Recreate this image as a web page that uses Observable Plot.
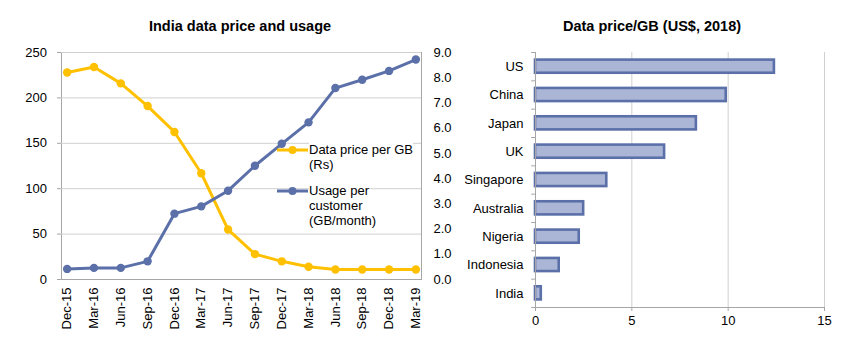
<!DOCTYPE html>
<html><head><meta charset="utf-8">
<script src="https://cdn.jsdelivr.net/npm/d3@7"></script>
<script src="https://cdn.jsdelivr.net/npm/@observablehq/plot@0.6"></script>
<style>
body{margin:0;background:#fff;font-family:"Liberation Sans",Arial,sans-serif;}
#root{position:relative;width:845px;height:354px;overflow:hidden;background:#fff;}
#root svg{position:absolute;top:0;}
.title{position:absolute;font-weight:bold;font-size:14.5px;color:#000;white-space:nowrap;transform:translate(-50%,-50%);}
.leg{position:absolute;font-size:13px;line-height:15px;color:#000;white-space:nowrap;}
.leg span{background:#fff;}
</style></head><body><div id="root"></div>
<script>
// ---- data ----
const quarters = ["Dec-15","Mar-16","Jun-16","Sep-16","Dec-16","Mar-17","Jun-17","Sep-17","Dec-17","Mar-18","Jun-18","Sep-18","Dec-18","Mar-19"];
const pricePerGB = [228,234,216,191,162.5,117,55,28,20,14,11,11,11,11];
const usagePerCustomer = [0.42,0.46,0.46,0.72,2.61,2.9,3.52,4.51,5.38,6.23,7.59,7.92,8.27,8.72];
const priceTicks = [0,50,100,150,200,250];
const usageTicks = [0,1,2,3,4,5,6,7,8,9];
const countries = ["US","China","Japan","UK","Singapore","Australia","Nigeria","Indonesia","India"];
const priceUSD = [12.4,9.9,8.35,6.7,3.7,2.5,2.27,1.23,0.3];
const usdTicks = [0,5,10,15];
const seriesNames = ["Data price per GB\n(Rs)","Usage per\ncustomer\n(GB/month)"];

const YELLOW = "#FFC000", BLUE = "#5B6FA9", AXIS = "#a6a6a6", GRID = "#d0d0d0";
const font = {fontFamily:"Liberation Sans, Arial, sans-serif", fontSize:"13px", color:"#000", background:"transparent", overflow:"visible"};
const root = document.getElementById("root");

const india = quarters.map((q,i)=>({q, price: pricePerGB[i], usage: usagePerCustomer[i]}));

// ---- left chart: price (left axis) ----
const L = {width:470, height:354, marginLeft:61, marginRight:49, marginTop:52, marginBottom:75};
const xOpt = {type:"point", domain: quarters, padding:0.21, round:false};
const p1 = Plot.plot({
  ...L, style: font,
  x: xOpt,
  y: {domain:[0,250]},
  marks: [
    Plot.frame({stroke: AXIS}),
    Plot.gridY(priceTicks.slice(1), {stroke: GRID, strokeOpacity:1}),
    Plot.axisY(priceTicks, {anchor:"left", label:null, tickSize:4, tickPadding:10.5, stroke: AXIS, fill:"#000", fontSize:13}),
    Plot.axisX(quarters, {label:null, tickRotate:-90, tickSize:0, tickPadding:8, fill:"#000", fontSize:13}),
    Plot.line(india, {x:"q", y:"price", stroke: YELLOW, strokeWidth:3}),
    Plot.dot(india, {x:"q", y:"price", r:4.2, fill: YELLOW, stroke:null})
  ]
});
p1.style.left = "0px";
root.appendChild(p1);

// ---- left chart: usage (right axis) ----
const p2 = Plot.plot({
  ...L, style: font,
  x: {...xOpt, axis:null},
  y: {domain:[0,9]},
  marks: [
    Plot.axisY(usageTicks, {anchor:"right", label:null, tickSize:0, tickPadding:12, tickFormat: d=>d.toFixed(1), fill:"#000", fontSize:13}),
    Plot.line(india, {x:"q", y:"usage", stroke: BLUE, strokeWidth:3}),
    Plot.dot(india, {x:"q", y:"usage", r:4.2, fill: BLUE, stroke:null})
  ]
});
p2.style.left = "0px";
root.appendChild(p2);

// ---- right chart: bars ----
const R = {width:400, height:354, marginLeft:90, marginRight:21, marginTop:52, marginBottom:47};
const bw = (R.height - R.marginTop - R.marginBottom) / countries.length;
const bars = countries.map((c,i)=>({c, v: priceUSD[i]}));
const p3 = Plot.plot({
  ...R, style: font,
  x: {domain:[0,15]},
  y: {type:"band", domain: countries, padding:0, round:false},
  marks: [
    Plot.gridX(usdTicks.slice(1), {stroke: GRID, strokeOpacity:1}),
    Plot.barX(bars, {x:"v", y:"c", fill:"#ABB5D5", stroke: BLUE, strokeWidth:2.6, insetTop:7.6, insetBottom:7.6}),
    Plot.ruleX([0], {stroke: AXIS}),
    Plot.ruleY(countries, {y: d=>d, x1:-0.2, x2:0, dy:-bw/2, stroke: AXIS}),
    Plot.ruleY([countries[countries.length-1]], {y: d=>d, x1:-0.2, x2:15, dy:bw/2, stroke: AXIS}),
    Plot.axisY({label:null, tickSize:0, tickPadding:12, fill:"#000", fontSize:13}),
    Plot.axisX(usdTicks, {label:null, tickSize:4, tickPadding:4, stroke: AXIS, fill:"#000", fontSize:13})
  ]
});
p3.style.left = "445px";
root.appendChild(p3);

// ---- titles ----
function title(text, x, y){
  const d = document.createElement("div");
  d.className = "title"; d.textContent = text;
  d.style.left = x + "px"; d.style.top = y + "px";
  root.appendChild(d);
}
title("India data price and usage", 240, 26);
title("Data price/GB (US$, 2018)", 652, 26);

// ---- legend ----
function legend(name, color, top){
  const s = document.createElementNS("http://www.w3.org/2000/svg","svg");
  s.setAttribute("width", 34); s.setAttribute("height", 12);
  s.style.left = "276px"; s.style.top = (top + 1.5) + "px";
  s.innerHTML = `<line x1="1" x2="32" y1="6" y2="6" stroke="${color}" stroke-width="3"/><circle cx="16.5" cy="6" r="4" fill="${color}"/>`;
  root.appendChild(s);
  const d = document.createElement("div");
  d.className = "leg";
  d.style.left = "309px"; d.style.top = top + "px";
  d.innerHTML = name.split("\n").map(t=>`<span>${t}</span>`).join("<br>");
  root.appendChild(d);
}
legend(seriesNames[0], YELLOW, 142);
legend(seriesNames[1], BLUE, 183);
</script></body></html>
